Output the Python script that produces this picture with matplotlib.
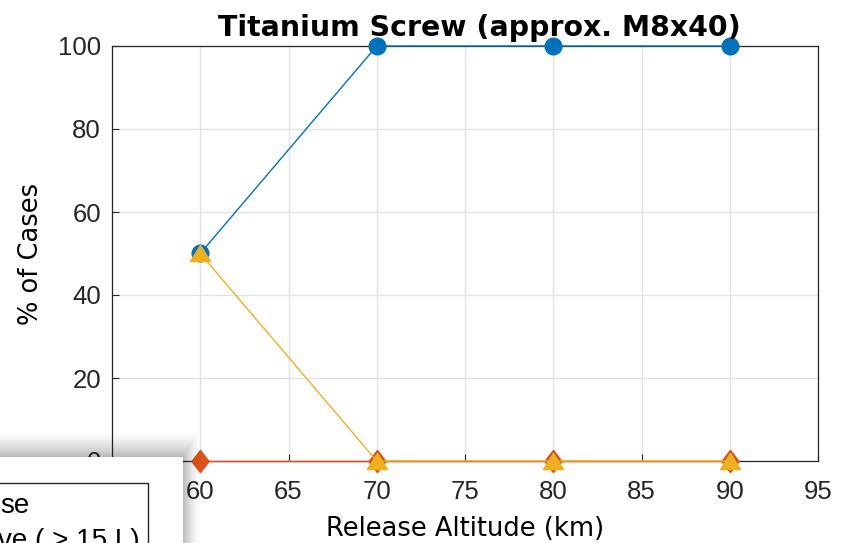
import numpy as np
import matplotlib.pyplot as plt
from matplotlib.patches import Rectangle
from matplotlib.path import Path

plt.rcParams['font.family'] = ['Liberation Sans', 'DejaVu Sans']

# altitudes de largage et pourcentages de cas
altitudes = [60, 70, 80, 90]
pct_bleu = [50, 100, 100, 100]
pct_orange = [0, 0, 0, 0]
pct_jaune = [50, 0, 0, 0]

W, H = 851, 543
fig = plt.figure(figsize=(W / 100, H / 100), dpi=100)
ax = fig.add_axes([112 / W, (H - 461) / H, (818 - 112) / W, (461 - 46) / H])

# marqueurs façon matlab : losange allongé, triangle écrasé
losange = Path([(0, 1), (0.77, 0), (0, -1), (-0.77, 0), (0, 1)],
               [Path.MOVETO, Path.LINETO, Path.LINETO, Path.LINETO, Path.CLOSEPOLY])
triangle = Path([(0, 0.8), (1, -0.8), (-1, -0.8), (0, 0.8)],
                [Path.MOVETO, Path.LINETO, Path.LINETO, Path.CLOSEPOLY])

ax.plot(altitudes, pct_bleu, '-', marker='o', color='#0072BD', lw=1.0, ms=12,
        clip_on=False, zorder=3)
ax.plot(altitudes, pct_orange, '-', marker=losange, color='#D95319', lw=1.0, ms=16,
        clip_on=False, zorder=4)
ax.plot(altitudes, pct_jaune, '-', marker=triangle, color='#EDB120', lw=1.0, ms=14.5,
        clip_on=False, zorder=5)

ax.set_xlim(55, 95)
ax.set_ylim(0, 100)
ax.set_xticks(np.arange(60, 96, 5))
ax.set_yticks(np.arange(0, 101, 20))
ax.grid(True, color='#e3e3e3', lw=1.0)
ax.set_axisbelow(True)
ax.tick_params(direction='in', length=5, width=0.8, labelsize=18.5,
               top=False, right=False, colors='#262626')
ax.tick_params(axis='x', pad=14)
ax.tick_params(axis='y', pad=8)
for s in ax.spines.values():
    s.set_color('#262626')
    s.set_linewidth(0.9)

ax.set_title('Titanium Screw (approx. M8x40)', fontsize=20.4, fontweight='bold',
             family='DejaVu Sans', pad=7, x=0.521)
ax.set_xlabel('Release Altitude (km)', fontsize=18.5, family='DejaVu Sans', labelpad=8)
ax.set_ylabel('% of Cases', fontsize=18.5, family='DejaVu Sans', labelpad=10)

# panneau blanc par-dessus le coin bas gauche, avec ombre
ov = fig.add_axes([0, 0, 1, 1], zorder=10)
ov.set_xlim(0, W)
ov.set_ylim(H, 0)
ov.axis('off')
ov.patch.set_alpha(0)

bx, by = 183, 457
yy, xx = np.mgrid[0:H, 0:W] + 0.5
dx = np.clip(xx - bx, 0, None) / 18
dy = np.clip(by - yy, 0, None) / 28
d = np.maximum(dx, dy)
ombre = np.zeros((H, W, 4))
ombre[..., 3] = np.where(d < 1, 0.28 * (1 - d) ** 1.6, 0)
ov.imshow(ombre, extent=(0, W, H, 0), interpolation='bilinear', zorder=1)

ov.add_patch(Rectangle((0, by), bx, H - by, facecolor='white', edgecolor='none', zorder=2))
cadre = Rectangle((-10, 483), 158, 100, facecolor='white', edgecolor='#262626', lw=1.0, zorder=3)
ov.add_patch(cadre)
for txt, x, y in [('se', 29, 513), ('ve ( > 15 L)', 140, 548)]:
    t = ov.text(x, y, txt, ha='right', va='baseline', fontsize=20, zorder=4)
    t.set_clip_path(cadre)

fig.savefig('out.png', dpi=100)
